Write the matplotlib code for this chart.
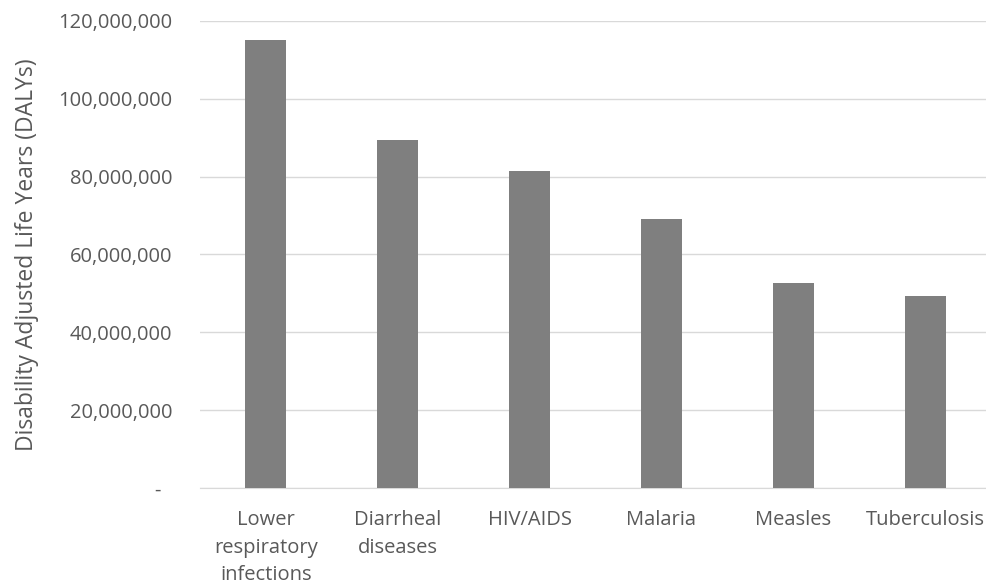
import matplotlib
matplotlib.use("Agg")
import matplotlib.pyplot as plt
from matplotlib.ticker import FuncFormatter

categories = ["Lower\nrespiratory\ninfections", "Diarrheal\ndiseases", "HIV/AIDS",
              "Malaria", "Measles", "Tuberculosis"]
dalys = [115_100_000, 89_400_000, 81_400_000, 69_100_000, 52_600_000, 49_300_000]
yticks = [0, 20_000_000, 40_000_000, 60_000_000, 80_000_000, 100_000_000, 120_000_000]

plt.rcParams['font.family'] = ['Open Sans', 'DejaVu Sans']

fig = plt.figure(figsize=(9.86, 5.87), dpi=100)
ax = fig.add_axes([200/986, 1-488/587, 791/986, 467/587])

x = range(len(categories))
ax.bar(x, dalys, width=0.31, color="#7f7f7f", zorder=3)
ax.set_xlim(-0.5, len(categories)-0.5)
ax.set_ylim(0, 120_000_000)
ax.set_yticks(yticks)
ax.yaxis.set_major_formatter(FuncFormatter(lambda v, p: "-  " if v == 0 else f"{int(v):,}"))
ax.set_xticks(list(x))
ax.set_xticklabels(categories, linespacing=1.5)
ax.grid(axis="y", color="#d9d9d9", linewidth=1, zorder=0)
for s in ["top", "right", "left"]:
    ax.spines[s].set_visible(False)
ax.spines["bottom"].set_color("#d9d9d9")
ax.tick_params(axis="both", length=0, labelsize=14.5, colors="#595959")
ax.tick_params(axis="y", pad=20)
ax.tick_params(axis="x", pad=16)
ax.set_ylabel("Disability Adjusted Life Years (DALYs)", fontsize=16.5, color="#595959", labelpad=14)

fig.savefig("out.png", dpi=100)
